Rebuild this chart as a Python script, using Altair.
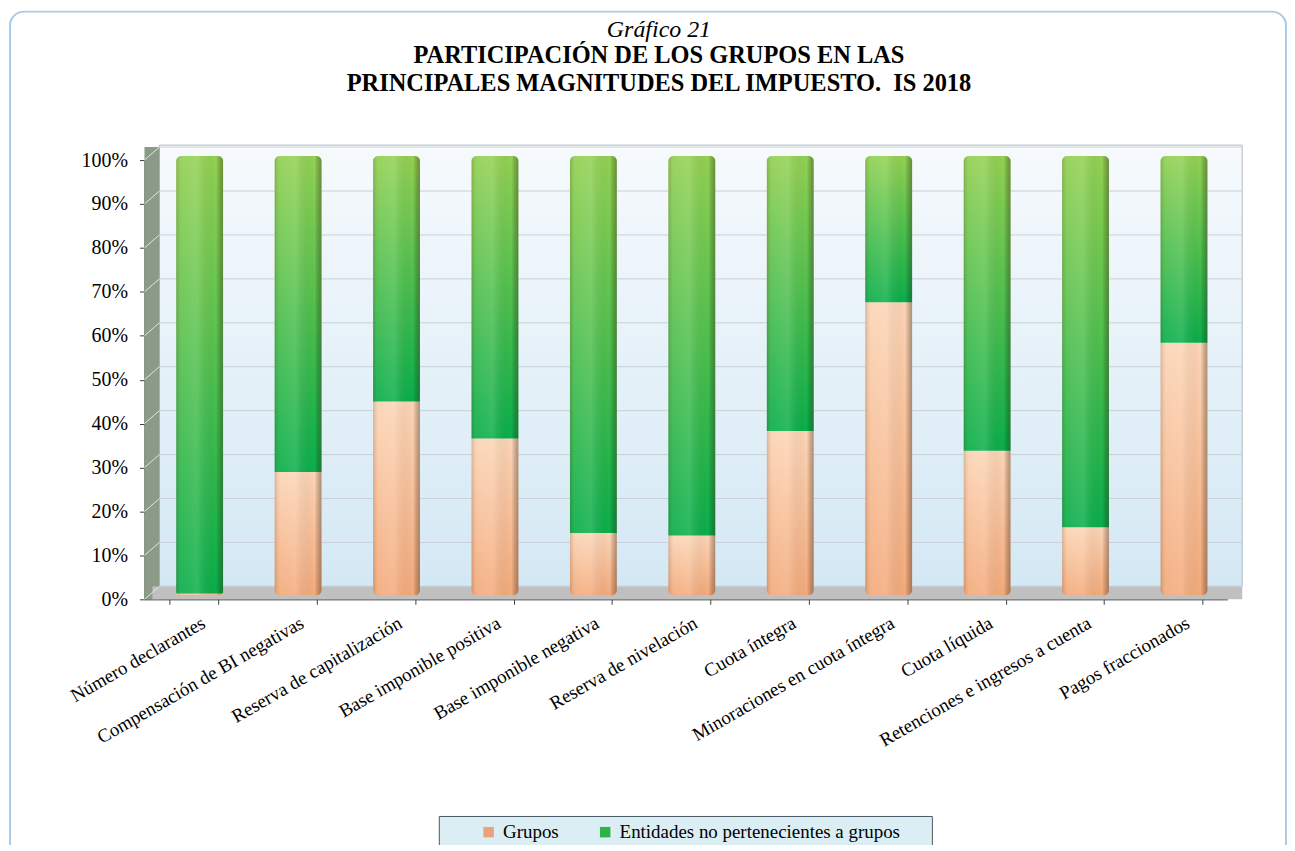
import altair as alt
import pandas as pd

# ---------------- data ----------------
categories = [
    "Número declarantes",
    "Compensación de BI negativas",
    "Reserva de capitalización",
    "Base imponible positiva",
    "Base imponible negativa",
    "Reserva de nivelación",
    "Cuota íntegra",
    "Minoraciones en cuota íntegra",
    "Cuota líquida",
    "Retenciones e ingresos a cuenta",
    "Pagos fraccionados",
]
grupos = [0.4, 28.1, 44.1, 35.7, 14.2, 13.6, 37.4, 66.7, 32.9, 15.5, 57.5]
entidades = [round(100 - v, 1) for v in grupos]
series_names = ["Grupos", "Entidades no pertenecientes a grupos"]
y_ticks = [0, 10, 20, 30, 40, 50, 60, 70, 80, 90, 100]

df = pd.DataFrame({"cat": categories, "g": grupos, "e": entidades})
df["top"] = df["g"] + df["e"]
df["zero"] = 0.0
long_df = pd.DataFrame(
    [{"cat": c, "serie": series_names[0]} for c in categories]
    + [{"cat": c, "serie": series_names[1]} for c in categories]
)
grid_df = pd.DataFrame({"v": y_ticks})
one = alt.Data(values=[{"k": 1}])

FONT = "Liberation Serif"
W, H = 1087, 441

X = alt.X(
    "cat:N",
    sort=categories,
    scale=alt.Scale(paddingInner=0.5, paddingOuter=0.25),
    axis=alt.Axis(
        title=None,
        labelAngle=330,
        labelFont=FONT,
        labelFontSize=19,
        labelColor="#000000",
        labelLimit=400,
        labelPadding=9,
        labelOffset=5,
        tickBand="extent",
        tickSize=5,
        tickColor="#404040",
        domainColor="#404040",
        grid=False,
    ),
)
YSCALE = alt.Scale(domain=[0, 100], nice=False)
YAXIS = alt.Axis(
    title=None,
    values=y_ticks,
    labelExpr="datum.value + '%'",
    labelFont=FONT,
    labelFontSize=20,
    labelColor="#000000",
    labelPadding=12,
    tickSize=5,
    tickColor="#404040",
    domainColor="#404040",
    grid=False,
)


def yenc(field):
    return alt.Y(field, scale=YSCALE, axis=YAXIS)


def vgrad(c0, c1):
    return {"gradient": "linear", "x1": 0, "y1": 0, "x2": 0, "y2": 1,
            "stops": [{"offset": 0, "color": c0}, {"offset": 1, "color": c1}]}


hshade = {"gradient": "linear", "x1": 0, "y1": 0, "x2": 1, "y2": 0,
          "stops": [
              {"offset": 0, "color": "rgba(90,60,40,0.22)"},
              {"offset": 0.12, "color": "rgba(255,255,255,0.08)"},
              {"offset": 0.45, "color": "rgba(255,255,255,0.14)"},
              {"offset": 0.85, "color": "rgba(0,0,0,0)"},
              {"offset": 1, "color": "rgba(60,40,20,0.40)"},
          ]}

# ---------------- decorations ----------------
border = alt.Chart(one).mark_rect(
    filled=False, stroke="#a9cbe8", strokeWidth=2, cornerRadius=14
).encode(x=alt.value(-135), x2=alt.value(1146), y=alt.value(-149), y2=alt.value(720))

back_wall = alt.Chart(one).mark_rect(
    fill=vgrad("#f6fafd", "#d4e8f4"), stroke="#b4bcc4", strokeWidth=1
).encode(x=alt.value(15), x2=alt.value(1102), y=alt.value(-15), y2=alt.value(428))

side_wall = alt.Chart(one).mark_rect(fill="#8c9a88").encode(
    x=alt.value(0), x2=alt.value(15), y=alt.value(-13), y2=alt.value(441)
)

floor = alt.Chart(one).mark_rect(fill="#c0c0c0").encode(
    x=alt.value(8), x2=alt.value(1102), y=alt.value(428), y2=alt.value(441)
)

grid_back = alt.Chart(grid_df).mark_rule(
    color="#c9d0d6", strokeWidth=1, yOffset=-13
).encode(
    y=yenc("v:Q"),
    x=alt.value(15), x2=alt.value(1102),
)
grid_side = alt.Chart(grid_df).mark_rule(
    color="#dfe6e0", strokeWidth=1, y2Offset=-13
).encode(
    y=yenc("v:Q"),
    y2=alt.Y2("v:Q"),
    x=alt.value(0), x2=alt.value(15),
)

legend_box = alt.Chart(one).mark_rect(
    fill="#dbeef4", stroke="#4a5866", strokeWidth=1
).encode(x=alt.value(296), x2=alt.value(791), y=alt.value(659), y2=alt.value(690))

# ---------------- bars ----------------
bar_kw = dict(size=47, xOffset=6, x2Offset=6, yOffset=-4, y2Offset=-4)

orange = alt.Chart(df).mark_bar(
    fill=vgrad("#fcd5b6", "#f3aa7b"), cornerRadiusBottomLeft=5, cornerRadiusBottomRight=5,
    **bar_kw
).encode(x=X, y=yenc("g:Q"), y2=alt.Y2("zero:Q"))

green = alt.Chart(df).mark_bar(
    fill=vgrad("#93d152", "#0aae4a"), cornerRadiusTopLeft=5, cornerRadiusTopRight=5,
    **bar_kw
).encode(x=X, y=yenc("g:Q"), y2=alt.Y2("top:Q"))

shade = alt.Chart(df).mark_bar(
    fill=hshade, cornerRadius=5, **bar_kw
).encode(x=X, y=yenc("top:Q"), y2=alt.Y2("zero:Q"))

legend_layer = alt.Chart(long_df).mark_square(opacity=0, size=10).encode(
    x=X,
    y=alt.value(0),
    color=alt.Color(
        "serie:N",
        scale=alt.Scale(domain=series_names, range=["#e9a27c", "#2fb24a"]),
        legend=alt.Legend(
            title=None,
            orient="none",
            legendX=336,
            legendY=665,
            direction="horizontal",
            symbolType="square",
            symbolSize=110,
            symbolOpacity=1,
            symbolStrokeWidth=0,
            labelFont=FONT,
            labelFontSize=19,
            labelColor="#000000",
            labelLimit=500,
            labelOffset=5,
            columnPadding=37,
            padding=0,
        ),
    ),
)

chart = alt.layer(
    border, back_wall, side_wall, floor, grid_back, grid_side, legend_box,
    orange, green, shade, legend_layer,
).properties(
    width=W,
    height=H,
    autosize=alt.AutoSizeParams(type="none"),
    padding={"left": 137, "top": 151, "right": 60, "bottom": 245},
    title=alt.TitleParams(
        text="Gráfico 21",
        subtitle=["PARTICIPACIÓN DE LOS GRUPOS EN LAS",
                  "PRINCIPALES MAGNITUDES DEL IMPUESTO.\u00a0 IS 2018"],
        font=FONT,
        fontSize=24,
        fontStyle="italic",
        fontWeight="normal",
        color="#000000",
        subtitleFont=FONT,
        subtitleFontSize=24.5,
        subtitleFontWeight="bold",
        subtitleColor="#000000",
        subtitleLineHeight=28,
        subtitlePadding=2,
        anchor="middle",
        frame="group",
        dx=-27,
        offset=-85,
    ),
).configure_view(stroke=None).configure(background="#ffffff")

chart.save("out.html", embed_options={"renderer": "svg", "actions": False})
